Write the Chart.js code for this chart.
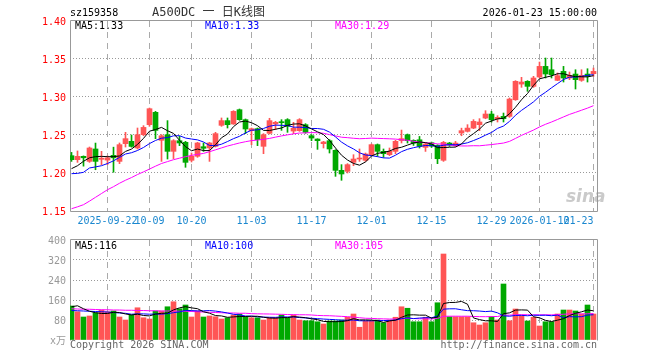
<!doctype html>
<html>
<head>
<meta charset="utf-8"/>
<title>A500DC 日K线图</title>
<script src="https://cdn.jsdelivr.net/npm/chart.js@4.4.1/dist/chart.umd.min.js"></script>
<style>
  body { margin: 0; background: #fff; }
  #wrap { position: relative; width: 660px; height: 360px; overflow: hidden;
          font-family: "DejaVu Sans Mono", "Noto Sans CJK SC", monospace; font-size: 10px; }
  #wrap canvas { position: absolute; left: 0; }
  .t { position: absolute; white-space: pre; line-height: 12px; }
</style>
</head>
<body>
<div id="wrap">
  <canvas id="kChart" width="660" height="232" style="top:0"></canvas>
  <canvas id="volChart" width="660" height="128" style="top:232px"></canvas>

  <div class="t" style="left:70px;top:7px;color:#000">sz159358</div>
  <div class="t" style="left:152px;top:5px;font-size:12px;line-height:14px;color:#333">A500DC 一 日K线图</div>
  <div class="t" style="right:63px;top:7px;color:#000">2026-01-23 15:00:00</div>

  <div class="t" style="left:75px;top:20px;color:#000">MA5:1.33</div>
  <div class="t" style="left:205px;top:20px;color:#0000ff">MA10:1.33</div>
  <div class="t" style="left:335px;top:20px;color:#ff00ff">MA30:1.29</div>

  <div class="t" style="left:75px;top:240px;color:#000">MA5:116</div>
  <div class="t" style="left:205px;top:240px;color:#0000ff">MA10:100</div>
  <div class="t" style="left:335px;top:240px;color:#ff00ff">MA30:105</div>

  <div class="t" style="left:70px;top:339px;color:#666">Copyright 2026 SINA.COM</div>
  <div class="t" style="right:63px;top:339px;color:#666">http://finance.sina.com.cn</div>

  <div class="t" style="left:566px;top:186px;font:italic bold 17px 'DejaVu Sans';color:rgba(150,150,150,0.5)">sina</div>
</div>

<script>
// trading days shown (88 candles)
const dates = [
  '2025-09-12','2025-09-15','2025-09-16','2025-09-17','2025-09-18','2025-09-19','2025-09-22','2025-09-23','2025-09-24','2025-09-25','2025-09-26','2025-09-29','2025-09-30',
  '2025-10-09','2025-10-10','2025-10-13','2025-10-14','2025-10-15','2025-10-16','2025-10-17','2025-10-20','2025-10-21','2025-10-22','2025-10-23','2025-10-24','2025-10-27','2025-10-28','2025-10-29','2025-10-30','2025-10-31',
  '2025-11-03','2025-11-04','2025-11-05','2025-11-06','2025-11-07','2025-11-10','2025-11-11','2025-11-12','2025-11-13','2025-11-14','2025-11-17','2025-11-18','2025-11-19','2025-11-20','2025-11-21','2025-11-24','2025-11-25','2025-11-26','2025-11-27','2025-11-28',
  '2025-12-01','2025-12-02','2025-12-03','2025-12-04','2025-12-05','2025-12-08','2025-12-09','2025-12-10','2025-12-11','2025-12-12','2025-12-15','2025-12-16','2025-12-17','2025-12-18','2025-12-19','2025-12-22','2025-12-23','2025-12-24','2025-12-25','2025-12-26','2025-12-29','2025-12-30','2025-12-31',
  '2026-01-05','2026-01-06','2026-01-07','2026-01-08','2026-01-09','2026-01-12','2026-01-13','2026-01-14','2026-01-15','2026-01-16','2026-01-19','2026-01-20','2026-01-21','2026-01-22','2026-01-23'
];

const tickIdx  = [6, 13, 20, 30, 40, 50, 60, 70, 78, 87];
const tickText = ['2025-09-22','10-09','10-20','11-03','11-17','12-01','12-15','12-29','2026-01-12','01-23     '];

const open = [1.2228,1.2175,1.2219,1.2153,1.2316,1.2180,1.2170,1.2232,1.2153,1.2386,
  1.2417,1.2329,1.2504,1.2636,1.2798,1.2430,1.2504,1.2285,1.2425,1.2404,
  1.2167,1.2220,1.2346,1.2330,1.2351,1.2627,1.2689,1.2645,1.2833,1.2702,
  1.2557,1.2583,1.2351,1.2522,1.2645,1.2675,1.2702,1.2552,1.2557,1.2636,
  1.2491,1.2447,1.2386,1.2425,1.2298,1.2035,1.2022,1.2140,1.2184,1.2167,
  1.2241,1.2373,1.2285,1.2241,1.2285,1.2427,1.2504,1.2429,1.2437,1.2337,
  1.2398,1.2363,1.2167,1.2394,1.2359,1.2526,1.2548,1.2591,1.2636,1.2723,
  1.2776,1.2714,1.2745,1.2745,1.2964,1.3170,1.3206,1.3140,1.3263,1.3403,
  1.3359,1.3219,1.3337,1.3250,1.3302,1.3219,1.3302,1.3307];
const high = [1.2271,1.2290,1.2225,1.2342,1.2394,1.2285,1.2225,1.2340,1.2395,1.2535,
  1.2500,1.2592,1.2623,1.2855,1.2811,1.2505,1.2689,1.2439,1.2483,1.2417,
  1.2263,1.2404,1.2395,1.2404,1.2535,1.2724,1.2724,1.2820,1.2842,1.2711,
  1.2592,1.2592,1.2518,1.2720,1.2680,1.2702,1.2715,1.2667,1.2715,1.2649,
  1.2504,1.2450,1.2417,1.2439,1.2307,1.2110,1.2123,1.2241,1.2316,1.2263,
  1.2382,1.2382,1.2316,1.2329,1.2430,1.2565,1.2513,1.2437,1.2481,1.2394,
  1.2407,1.2372,1.2416,1.2403,1.2416,1.2590,1.2636,1.2702,1.2715,1.2820,
  1.2811,1.2754,1.2789,1.2987,1.3215,1.3259,1.3215,1.3272,1.3460,1.3513,
  1.3513,1.3316,1.3403,1.3329,1.3359,1.3359,1.3372,1.3381];
const low = [1.2153,1.2140,1.2090,1.2140,1.2043,1.2110,1.2110,1.2010,1.2123,1.2342,
  1.2340,1.2316,1.2490,1.2614,1.2452,1.2153,1.2184,1.2189,1.2360,1.2075,
  1.2145,1.2206,1.2285,1.2153,1.2342,1.2614,1.2592,1.2640,1.2693,1.2518,
  1.2373,1.2360,1.2254,1.2513,1.2570,1.2561,1.2535,1.2518,1.2548,1.2522,
  1.2425,1.2311,1.2329,1.2263,1.1956,1.1904,1.2000,1.2096,1.2153,1.2153,
  1.2228,1.2219,1.2206,1.2228,1.2254,1.2395,1.2394,1.2363,1.2328,1.2284,
  1.2337,1.2123,1.2153,1.2350,1.2350,1.2490,1.2539,1.2583,1.2557,1.2714,
  1.2670,1.2671,1.2671,1.2732,1.2956,1.3127,1.3075,1.3127,1.3250,1.3250,
  1.3250,1.3215,1.3197,1.3228,1.3105,1.3206,1.3197,1.3272];
const close = [1.2175,1.2219,1.2200,1.2329,1.2153,1.2195,1.2200,1.2200,1.2373,1.2452,
  1.2350,1.2504,1.2600,1.2846,1.2561,1.2490,1.2285,1.2425,1.2395,1.2140,
  1.2220,1.2395,1.2325,1.2395,1.2518,1.2689,1.2636,1.2811,1.2702,1.2579,
  1.2583,1.2439,1.2504,1.2689,1.2667,1.2662,1.2614,1.2588,1.2702,1.2535,
  1.2460,1.2425,1.2408,1.2316,1.2035,1.1987,1.2110,1.2184,1.2197,1.2250,
  1.2373,1.2285,1.2254,1.2285,1.2417,1.2452,1.2425,1.2394,1.2350,1.2381,
  1.2354,1.2188,1.2403,1.2368,1.2394,1.2557,1.2591,1.2679,1.2671,1.2776,
  1.2701,1.2732,1.2714,1.2973,1.3206,1.3197,1.3140,1.3250,1.3403,1.3303,
  1.3294,1.3281,1.3250,1.3285,1.3228,1.3285,1.3272,1.3337];

const ma5 = [1.2057,1.2096,1.2154,1.2200,1.2215,1.2219,1.2215,1.2215,1.2224,1.2284,
  1.2315,1.2376,1.2456,1.2550,1.2572,1.2600,1.2556,1.2521,1.2431,1.2347,
  1.2293,1.2315,1.2295,1.2295,1.2371,1.2464,1.2513,1.2610,1.2671,1.2683,
  1.2662,1.2623,1.2561,1.2559,1.2576,1.2592,1.2627,1.2644,1.2647,1.2620,
  1.2580,1.2542,1.2506,1.2429,1.2329,1.2234,1.2171,1.2126,1.2103,1.2146,
  1.2223,1.2258,1.2272,1.2289,1.2323,1.2339,1.2367,1.2395,1.2408,1.2400,
  1.2381,1.2333,1.2335,1.2339,1.2341,1.2382,1.2463,1.2518,1.2578,1.2655,
  1.2684,1.2712,1.2719,1.2779,1.2865,1.2964,1.3046,1.3153,1.3239,1.3259,
  1.3278,1.3306,1.3306,1.3283,1.3268,1.3266,1.3264,1.3281];
const ma10 = [1.1991,1.1995,1.2009,1.2066,1.2080,1.2096,1.2125,1.2160,1.2205,1.2250,
  1.2267,1.2296,1.2336,1.2387,1.2428,1.2458,1.2466,1.2489,1.2491,1.2460,
  1.2447,1.2436,1.2408,1.2363,1.2359,1.2379,1.2414,1.2452,1.2483,1.2527,
  1.2563,1.2568,1.2586,1.2615,1.2630,1.2627,1.2625,1.2603,1.2603,1.2598,
  1.2586,1.2585,1.2575,1.2538,1.2475,1.2407,1.2357,1.2316,1.2266,1.2237,
  1.2229,1.2215,1.2199,1.2196,1.2234,1.2281,1.2312,1.2333,1.2349,1.2362,
  1.2360,1.2350,1.2365,1.2373,1.2371,1.2381,1.2398,1.2427,1.2459,1.2498,
  1.2533,1.2587,1.2618,1.2679,1.2760,1.2824,1.2879,1.2936,1.3009,1.3062,
  1.3121,1.3176,1.3230,1.3261,1.3263,1.3272,1.3285,1.3294];
const ma30 = [1.1530,1.1555,1.1583,1.1630,1.1680,1.1730,1.1780,1.1820,1.1865,1.1905,
  1.1940,1.1980,1.2015,1.2052,1.2090,1.2125,1.2150,1.2175,1.2195,1.2215,
  1.2232,1.2245,1.2258,1.2280,1.2305,1.2330,1.2355,1.2375,1.2395,1.2412,
  1.2426,1.2433,1.2443,1.2455,1.2472,1.2488,1.2502,1.2515,1.2526,1.2528,
  1.2532,1.2530,1.2523,1.2505,1.2488,1.2471,1.2465,1.2457,1.2451,1.2454,
  1.2459,1.2456,1.2453,1.2450,1.2446,1.2438,1.2431,1.2417,1.2406,1.2399,
  1.2392,1.2383,1.2380,1.2369,1.2360,1.2356,1.2356,1.2359,1.2358,1.2366,
  1.2374,1.2384,1.2394,1.2416,1.2455,1.2495,1.2530,1.2565,1.2606,1.2641,
  1.2671,1.2704,1.2738,1.2771,1.2798,1.2826,1.2854,1.2886];

// volume, 万
const vol = [136,113,92,96,109,120,113,116,92,80,
  100,129,89,84,116,116,133,153,125,140,
  92,116,92,96,93,84,89,100,104,93,
  89,89,80,89,89,100,89,100,80,77,
  77,73,64,76,76,80,91,104,51,76,
  76,80,69,80,91,133,127,73,73,91,
  73,149,344,93,93,93,93,69,60,69,
  93,80,224,77,124,97,76,91,56,73,
  73,104,120,120,116,104,140,104];
const vma5 = [133,137,125,115,109.2,106,106,110.8,110,104.2,
  100.2,103.4,98,96.4,103.6,106.8,107.6,120.4,128.6,133.4,
  128.6,125.2,113,107.2,97.8,96.2,90.8,92.4,94,94,
  95,95,91,88,87.2,89.4,89.4,93.4,91.6,89.2,
  84.6,81.4,74.2,73.4,73.2,73.8,77.4,85.4,80.4,80.4,
  79.6,77.4,70.4,76.2,79.2,90.6,100,100.8,99.4,99.4,
  87.4,91.8,146,150,150.4,154.4,143.2,88.2,81.6,76.8,
  76.8,74.2,105.2,108.6,119.6,120.4,119.6,93,88.8,78.6,
  73.8,79.4,85.2,98,106.6,112.8,120,116.8];
const vma10 = [118,117,116,115,114,113,112,110,108,106.7,
  103.1,104.7,104.4,103.2,103.9,103.5,105.5,109.2,112.5,118.5,
  117.7,116.4,116.7,117.9,115.6,112.4,108,102.7,100.6,95.9,
  95.6,92.9,91.7,91,90.6,92.2,92.2,92.2,89.8,88.2,
  87,85.4,83.8,82.5,81.2,79.2,79.4,79.8,76.9,76.8,
  76.7,77.4,77.9,78.3,79.8,85.1,88.7,85.6,87.8,89.3,
  89,95.9,123.4,124.7,124.9,120.9,117.5,117.1,115.8,113.6,
  115.6,108.7,96.7,95.1,98.2,98.6,96.9,99.1,98.7,99.1,
  97.1,99.5,89.1,93.4,92.6,93.3,99.7,101];
const vma30 = [125,124,123,123,122,121,121,120,120,119,
  119,118,118,117,117,116,116,116,115,115,
  114,113,112,111,110,109,108,108,107,107,
  105.5,104.7,104.3,104,103.4,102.7,101.9,101.4,101,100.9,
  100.1,98.2,97.4,97.1,95.8,94.6,93.2,91.6,89.1,87,
  86.4,85.2,84.5,83.9,83.9,85.5,86.8,85.9,84.8,84.8,
  84.2,86.2,95,95.2,95.3,95.1,95.2,94.2,93.5,93.2,
  93.8,94,99.3,99.4,101,101.5,101,100.6,100.8,100.7,
  100.6,101.4,103.1,104.4,105.2,104.3,104.7,105.7];

const RED = '#ff5555', GREEN = '#00a800';
const MONO = '"DejaVu Sans Mono", "Noto Sans CJK SC", monospace';
const colors = close.map((c, i) => c >= open[i] ? RED : GREEN);
const pts = arr => arr.map((v, i) => ({ x: i, y: v }));

// plot frame (left, top, right, optional bottom)
const frame = {
  id: 'frame',
  beforeDatasetsDraw(chart, args, opts) {
    const { ctx, chartArea: a } = chart;
    ctx.save();
    ctx.strokeStyle = '#999';
    ctx.lineWidth = 1;
    ctx.beginPath();
    ctx.moveTo(a.left + 0.5, a.bottom + 0.5);
    ctx.lineTo(a.left + 0.5, a.top - 0.5);
    ctx.lineTo(a.right + 0.5, a.top - 0.5);
    ctx.lineTo(a.right + 0.5, a.bottom + 0.5);
    if (opts.bottom) ctx.lineTo(a.left + 0.5, a.bottom + 0.5);
    ctx.stroke();
    ctx.restore();
  }
};

function xScale(showLabels) {
  return {
    type: 'linear', min: -0.25, max: 87.5833, offset: false,
    afterBuildTicks: s => { s.ticks = tickIdx.map(v => ({ value: v })); },
    afterFit: s => { s.height = showLabels ? 21 : 0; s.paddingLeft = 0; s.paddingRight = 0; },
    grid: { color: '#aaa', drawTicks: false, offset: false },
    border: { display: false, dash: [6, 5] },
    ticks: {
      display: showLabels, autoSkip: false, maxRotation: 0, minRotation: 0, padding: 4,
      color: '#1a87cf', font: { family: MONO, size: 10 },
      callback: (v, i) => tickText[i]
    }
  };
}

function yGrid(c) {
  const n = c.scale.ticks.length;
  return (c.index === 0 || c.index === n - 1) ? 'rgba(0,0,0,0)' : '#999';
}

function line(data, color) {
  return { type: 'line', data: pts(data), borderColor: color, borderWidth: 1,
           pointRadius: 0, tension: 0, order: 0 };
}

new Chart(document.getElementById('kChart'), {
  type: 'bar',
  data: {
    datasets: [
      line(ma5, '#000000'),
      line(ma10, '#0000ff'),
      line(ma30, '#ff00ff'),
      { data: open.map((o, i) => ({ x: i, y: [o, close[i]] })), backgroundColor: colors,
        barThickness: 5, minBarLength: 1, grouped: false, order: 1 },
      { data: low.map((l, i) => ({ x: i, y: [l, high[i]] })), backgroundColor: colors,
        barThickness: 1, grouped: false, order: 2 }
    ]
  },
  options: {
    responsive: false, animation: false,
    layout: { padding: { top: 21, right: 63, bottom: 0, left: 0 } },
    plugins: { legend: { display: false }, tooltip: { enabled: false }, frame: { bottom: true } },
    scales: {
      x: xScale(true),
      y: {
        min: 1.15, max: 1.40,
        afterFit: s => { s.width = 70; s.paddingTop = 0; s.paddingBottom = 0; },
        grid: { drawTicks: false, color: yGrid },
        border: { display: false, dash: [1, 2] },
        ticks: { stepSize: 0.05, padding: 4, labelOffset: 1, color: '#ff0000',
                 font: { family: MONO, size: 10 }, callback: v => v.toFixed(2) }
      }
    }
  },
  plugins: [frame]
});

new Chart(document.getElementById('volChart'), {
  type: 'bar',
  data: {
    datasets: [
      line(vma5, '#000000'),
      line(vma10, '#0000ff'),
      line(vma30, '#ff00ff'),
      { data: pts(vol), backgroundColor: colors, barThickness: 5, grouped: false, order: 1 }
    ]
  },
  options: {
    responsive: false, animation: false,
    layout: { padding: { top: 8, right: 63, bottom: 20, left: 0 } },
    plugins: { legend: { display: false }, tooltip: { enabled: false }, frame: { bottom: false } },
    scales: {
      x: xScale(false),
      y: {
        min: 0, max: 400,
        afterFit: s => { s.width = 70; s.paddingTop = 0; s.paddingBottom = 0; },
        grid: { drawTicks: false, color: yGrid },
        border: { display: false, dash: [1, 2] },
        ticks: { stepSize: 80, padding: 4, labelOffset: 1, color: '#999',
                 font: { family: MONO, size: 10 }, callback: v => v === 0 ? 'x万' : String(v) }
      }
    }
  },
  plugins: [frame]
});
</script>
</body>
</html>
